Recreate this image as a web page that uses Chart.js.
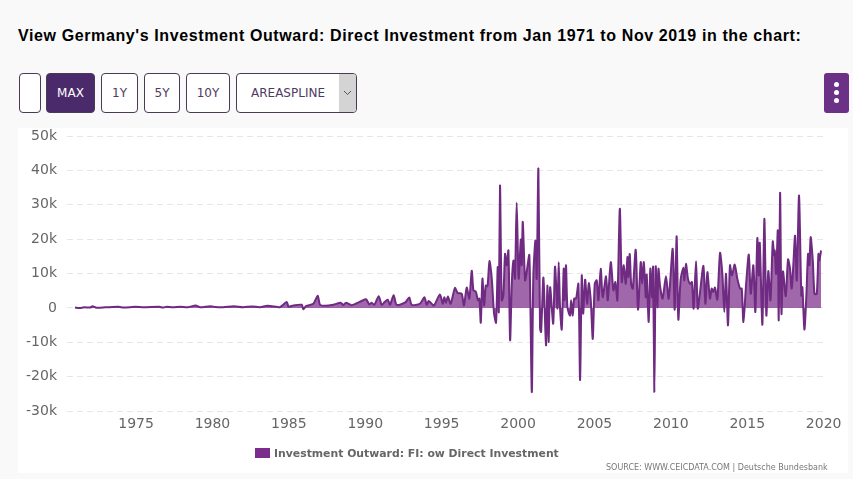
<!DOCTYPE html>
<html>
<head>
<meta charset="utf-8">
<title>Investment Outward</title>
<script src="https://cdn.jsdelivr.net/npm/chart.js@4"></script>
<style>
html, body { margin: 0; padding: 0; width: 853px; height: 479px; overflow: hidden; background: #f9f9f9; }
#title { position: absolute; left: 18px; top: 27px; font: bold 16px "Liberation Sans", Arial, sans-serif; letter-spacing: 0.61px; color: #000; white-space: nowrap; }
.btn { position: absolute; top: 73px; height: 38px; line-height: 38px; text-align: center; box-sizing: content-box; border: 1px solid #4a3a55; border-radius: 4px; background: #fff; color: #4f3a63; font: 12px/38px "DejaVu Sans", sans-serif; }
.btn.on { background: #4b2a6b; color: #fff; }
#arrow { position: absolute; left: 339px; top: 74px; width: 17px; height: 38px; background: #d4d4d4; border-radius: 0 3px 3px 0; }
#arrow svg { position: absolute; left: 4px; top: 16px; }
#menu { position: absolute; left: 824px; top: 73px; width: 25px; height: 40px; background: #6a3187; border-radius: 3px; }
#menu i { position: absolute; left: 10px; width: 5px; height: 5px; border-radius: 50%; background: #fff; }
#panel { position: absolute; left: 18px; top: 128px; width: 830px; height: 345px; background: #fff; }
#wrap { position: absolute; left: 0; top: 0; width: 853px; height: 479px; }
#legend { position: absolute; left: 255px; top: 446px; font: bold 10.85px "DejaVu Sans", sans-serif; color: #666; white-space: nowrap; line-height: 15px; }
#legend span { display: inline-block; width: 15px; height: 10px; background: #7b2d8b; margin-right: 4px; vertical-align: -1px; }
#source { position: absolute; left: 606px; top: 463px; font: 8px "DejaVu Sans", sans-serif; color: #777; white-space: nowrap; }
</style>
</head>
<body>
<div id="title">View Germany's Investment Outward: Direct Investment from Jan 1971 to Nov 2019 in the chart:</div>
<div class="btn" style="left:19px;width:20px"></div>
<div class="btn on" style="left:46px;width:47px">MAX</div>
<div class="btn" style="left:101px;width:35px">1Y</div>
<div class="btn" style="left:144px;width:34px">5Y</div>
<div class="btn" style="left:186px;width:42px">10Y</div>
<div class="btn" style="left:236px;width:119px;text-align:left;text-indent:14px">AREASPLINE</div>
<div id="arrow"><svg width="9" height="6"><path d="M1 1 L4.5 4.5 L8 1" fill="none" stroke="#555" stroke-width="1"/></svg></div>
<div id="menu"><i style="top:9px"></i><i style="top:17px"></i><i style="top:25px"></i></div>
<div id="panel"></div>
<div id="wrap"><canvas id="chart" width="853" height="479"></canvas></div>
<div id="legend"><span></span><b id="legendText"></b></div>
<div id="source">SOURCE: WWW.CEICDATA.COM | Deutsche Bundesbank</div>

<script>
const seriesName = 'Investment Outward: FI: ow Direct Investment';
const yTicks = [-30000, -20000, -10000, 0, 10000, 20000, 30000, 40000, 50000];
const xTicks = [1975, 1980, 1985, 1990, 1995, 2000, 2005, 2010, 2015, 2020];

// decimal year of each reading
const years = [
  1971, 1971.3, 1971.6, 1972, 1972.15, 1972.4, 1973, 1973.85, 1974.2, 1974.94, 1975.5, 1976.5, 1976.8, 1977, 1977.4, 1977.9,
  1978.4, 1978.9, 1979.2, 1979.85, 1980.2, 1980.7, 1981.4, 1982, 1982.6, 1983.1, 1983.6, 1984.2, 1984.42,
  1984.86, 1984.98, 1985.29, 1985.84, 1985.95, 1986.12, 1986.6, 1986.89, 1987.04, 1987.37, 1987.91, 1988.39, 1988.57, 1988.74,
  1989.11, 1989.76, 1990.05, 1990.27, 1990.42, 1990.59, 1990.88, 1991.07, 1991.25, 1991.47, 1991.62, 1991.86, 1992.05,
  1992.6, 1992.88, 1993.04, 1993.58, 1993.87, 1994.02, 1994.15, 1994.3, 1994.5, 1994.89, 1995.07, 1995.17, 1995.28,
  1995.41, 1995.59, 1995.87, 1996.05, 1996.31, 1996.46, 1996.64, 1996.81, 1996.97,
  1997.08, 1997.23, 1997.38, 1997.47, 1997.56, 1997.67, 1997.78, 1997.89, 1998, 1998.13, 1998.28, 1998.43, 1998.56, 1998.67,
  1998.74, 1998.82, 1998.93, 1999.04, 1999.15, 1999.26, 1999.37, 1999.48, 1999.59, 1999.7, 1999.8, 1999.91, 2000.04, 2000.18,
  2000.24, 2000.31, 2000.46, 2000.57, 2000.74, 2000.9, 2001, 2001.14, 2001.22, 2001.33, 2001.44, 2001.51, 2001.66, 2001.83,
  2001.92, 2002, 2002.1, 2002.3, 2002.42, 2002.58, 2002.66, 2002.75, 2002.86, 2002.99, 2003.05, 2003.14, 2003.23, 2003.4,
  2003.47, 2003.58, 2003.67, 2003.8, 2003.95, 2004.06, 2004.17, 2004.26, 2004.39, 2004.52, 2004.63, 2004.76, 2004.89, 2005.02,
  2005.15, 2005.26, 2005.41, 2005.54, 2005.76, 2005.87, 2006.07, 2006.24, 2006.37, 2006.5, 2006.66, 2006.79, 2006.92, 2007.05,
  2007.16, 2007.22, 2007.31, 2007.4, 2007.51, 2007.7, 2007.85, 2008.03, 2008.12, 2008.23, 2008.36, 2008.42, 2008.55, 2008.66,
  2008.77, 2008.84, 2008.92, 2009.01, 2009.12, 2009.19, 2009.29, 2009.46, 2009.68, 2009.86, 2010.12, 2010.25, 2010.38, 2010.49,
  2010.64, 2010.82, 2010.88, 2010.99, 2011.12, 2011.25, 2011.38, 2011.49, 2011.65, 2011.76, 2011.91, 2012.13, 2012.26, 2012.39,
  2012.56, 2012.67, 2012.78, 2012.89, 2013.04, 2013.22, 2013.37, 2013.5, 2013.61, 2013.74, 2013.87, 2014, 2014.18, 2014.35,
  2014.53, 2014.64, 2014.75, 2014.92, 2015.1, 2015.23, 2015.4, 2015.53, 2015.66, 2015.75, 2015.82, 2015.99, 2016.12, 2016.25,
  2016.38, 2016.52, 2016.67, 2016.76, 2016.8, 2016.89, 2017, 2017.06, 2017.15, 2017.24, 2017.34, 2017.52, 2017.67, 2017.8,
  2017.91, 2018.02, 2018.13, 2018.24, 2018.39, 2018.54, 2018.61, 2018.74, 2018.87, 2018.98, 2019.07, 2019.15, 2019.29, 2019.4,
  2019.55, 2019.66, 2019.72, 2019.83
];

const values = [
  100, -50, 150, 100, 500, 50, 150, 300, 100, 300, 150, 300, 100, 350, 150, 300,
  200, 700, 200, 500, 250, 200, 500, 200, 400, 200, 600, 300, 200,
  1700, 400, 700, 900, -400, 500, 1200, 3500, 900, 600, 900, 1500, 800, 1500,
  800, 2000, 2500, 1000, 1500, 900, 3400, 900, 1600, 2400, 900, 3700, 900,
  1500, 3000, 900, 1200, 3100, 900, 2000, 1400, 700, 3900, 1200, 3100, 1500,
  3300, 1200, 5800, 4300, 4100, 700, 5900, 2700, 10800,
  5100, 4800, 2200, 2700, -4300, 8500, 700, 6500, 6300, 13600, 8500, -1700, -4300, 11900,
  -1200, 35600, 2200, 3600, 15700, 12400, 16700, -9400, 7000, 13800, 8500, 30600, 8500, 19900,
  12400, 25000, 8000, 10600, 15300, -24500, 9400, 19600, 8500, 40500, -6000, -7000, 8800, -10900,
  6500, -9900, 6000, -4600, 12000, -200, 13300, -200, -6300, 11400, 2200, 12400, 200, -2200,
  2200, -2200, 2700, 2700, 7000, -21000, 9400, -1700, 8200, 1200, 7200, 2200, -9000, 7000,
  8000, 2200, 11400, 3100, 9200, 2200, 13300, 5100, 7500, 2200, 28800, 7500, 12400, 7000,
  14800, 9000, 15700, 7000, 5600, 16900, -500, 13300, 7000, 13300, 3100, 9700, -4100, 11400,
  3100, 11900, -24500, 12000, 200, 11400, 6500, 2700, 9200, 2700, 17200, -500, 20800, -3400,
  8200, 11700, 8000, 12800, 8500, 7000, 7500, -200, 13600, -200, 4600, 12200, 1200, 10400,
  2700, 5600, 4600, 5900, 2400, 16000, 9900, -1200, 9900, -5100, 12400, 9400, 12600, 8500,
  5600, 5600, -4100, 6500, 15500, 4100, 12400, -1200, 20300, 9400, 18900, -4900, 25900, -2200,
  10700, 2200, 19300, 15300, 16700, 9900, 22500, -3600, 33500, -1700, 10600, 3400, 14100, 11400,
  5600, 12800, 21000, 8000, 32700, 3600, 6000, -6300, 3600, 15700, 12400, 20600, 13800, 4100,
  4100, 15700, 13800, 16700
];

const points = years.map((y, i) => ({ x: y, y: values[i] }));

new Chart(document.getElementById('chart').getContext('2d'), {
  type: 'line',
  data: {
    datasets: [{
      label: seriesName,
      data: points,
      borderColor: '#6f2a82',
      backgroundColor: 'rgba(123, 45, 139, 0.72)',
      borderWidth: 2,
      pointRadius: 0,
      tension: 0.25,
      fill: 'origin'
    }]
  },
  options: {
    responsive: false,
    animation: false,
    layout: { padding: { left: 0, right: 26, top: 136, bottom: 0 } },
    plugins: { legend: { display: false }, tooltip: { enabled: false } },
    scales: {
      x: {
        type: 'linear',
        min: 1970.48,
        max: 2020.22,
        afterBuildTicks: s => { s.ticks = xTicks.map(v => ({ value: v })); },
        afterFit: s => { s.height = 68; },
        grid: { display: false },
        border: { display: false },
        ticks: {
          maxRotation: 0,
          autoSkip: false,
          padding: -3,
          color: '#666',
          font: { family: '"DejaVu Sans", sans-serif', size: 14 },
          callback: v => String(v)
        }
      },
      y: {
        min: -30000,
        max: 50000,
        afterBuildTicks: s => { s.ticks = yTicks.map(v => ({ value: v })); },
        afterFit: s => { s.width = 67; },
        grid: { color: '#e6e6e6', drawTicks: false },
        border: { display: false, dash: [6, 4] },
        ticks: {
          padding: 10,
          color: '#666',
          font: { family: '"DejaVu Sans", sans-serif', size: 14 },
          callback: v => (v === 0 ? '0' : (v / 1000) + 'k')
        }
      }
    }
  }
});

document.getElementById('legendText').textContent = seriesName;
</script>
</body>
</html>
